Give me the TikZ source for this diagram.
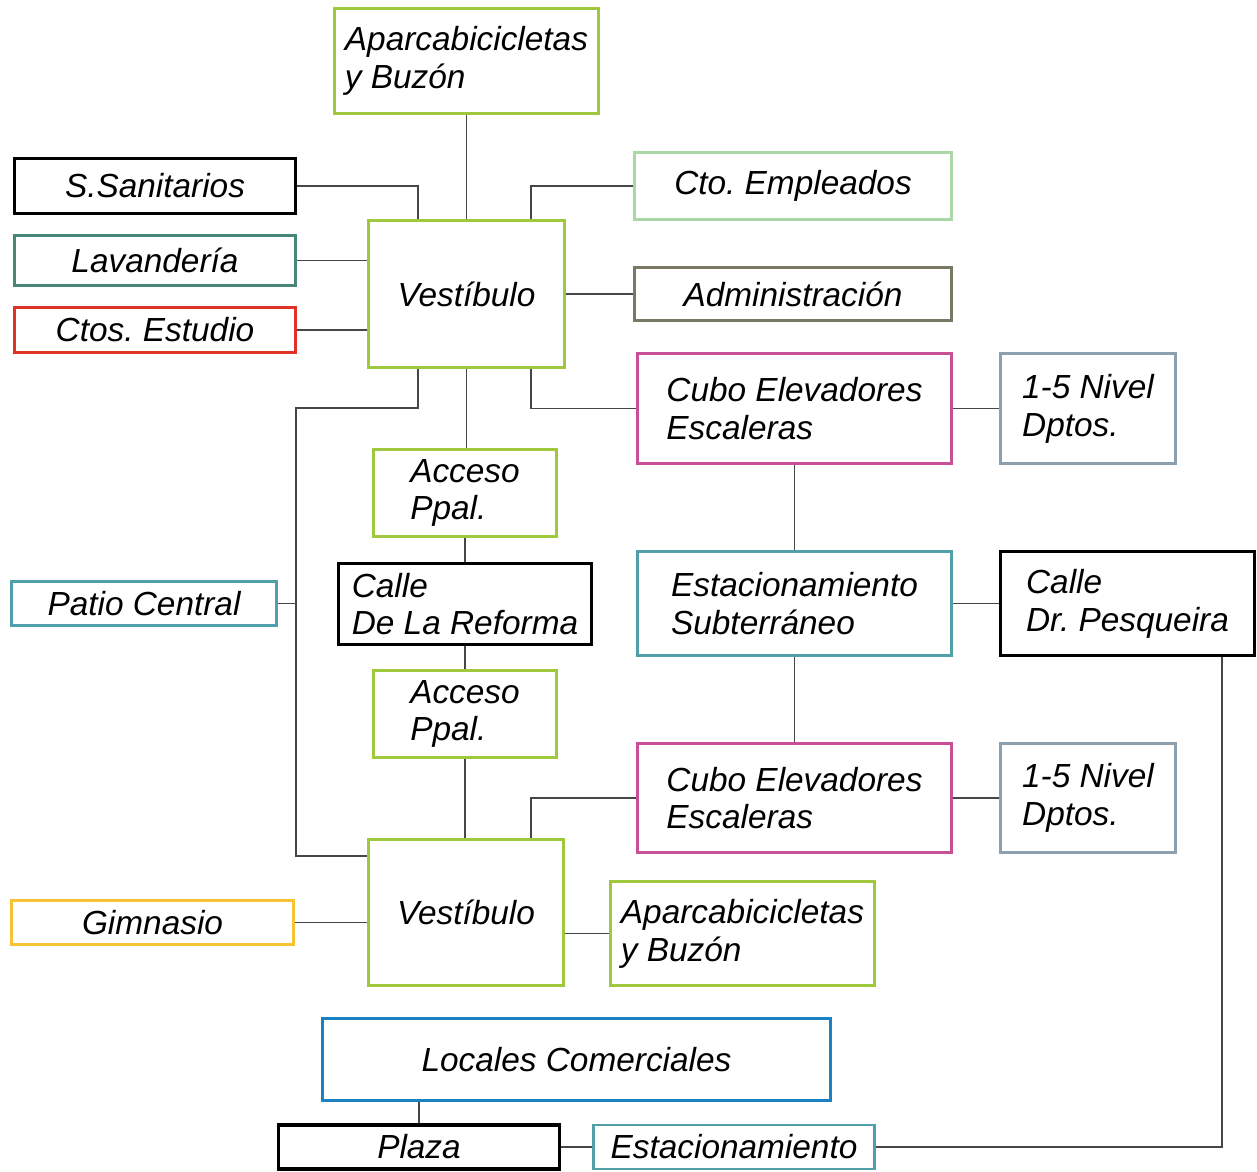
\documentclass[tikz,border=0pt]{standalone}
\usepackage{fontspec}
\setmainfont{Liberation Sans}
\usetikzlibrary{positioning,calc}
\frenchspacing

\definecolor{lime}{RGB}{160,200,60}
\definecolor{paleGreen}{RGB}{170,215,165}
\definecolor{darkTeal}{RGB}{70,135,120}
\definecolor{brickRed}{RGB}{225,50,40}
\definecolor{olive}{RGB}{120,120,100}
\definecolor{magentaBox}{RGB}{200,80,150}
\definecolor{greyBlue}{RGB}{140,160,175}
\definecolor{tealBox}{RGB}{80,160,170}
\definecolor{sunYellow}{RGB}{248,195,50}
\definecolor{seaBlue}{RGB}{25,130,195}
\definecolor{wire}{RGB}{70,70,70}

\begin{document}
\begin{tikzpicture}[
  x=0.02cm, y=-0.02cm,
  box/.style={draw, line width=1.6pt, fill=white, align=left, inner sep=0pt,
    font=\fontsize{19}{21.5}\selectfont\itshape\frenchspacing},
  sz/.style 2 args={minimum width=#1*0.02cm, minimum height=#2*0.02cm},
  link/.style={draw=wire, line width=0.8pt}
]
\useasboundingbox (0,0) rectangle (1257,1172);

\node[box, draw=lime, sz={264}{105}] (apA) at (466.5,61) {Aparcabicicletas\\y Buzón};
\node[box, draw=black, line width=1.9pt, sz={281}{55}] (san) at (155,186) {S.Sanitarios};
\node[box, draw=darkTeal, sz={281}{50}] (lav) at (155,260.5) {Lavandería};
\node[box, draw=brickRed, sz={281}{45}] (ctos) at (155,330) {Ctos. Estudio};
\node[box, draw=lime, sz={196}{147}] (vesA) at (466.5,294) {Vestíbulo};
\node[box, draw=paleGreen, sz={317}{67}] (emp) at (793,186) {Cto. Empleados};
\node[box, draw=olive, sz={317}{53}] (adm) at (793,294) {Administración};
\node[box, draw=magentaBox, sz={314}{110}] (cubA) at (794.5,408.5) {Cubo Elevadores\\Escaleras};
\node[box, draw=greyBlue, sz={175}{110}] (nivA) at (1088,408.5) {1-5 Nivel\\Dptos.};
\node[box, draw=lime, sz={183}{87}] (accA) at (465,493) {Acceso\\Ppal.};
\node[box, draw=black, line width=1.9pt, sz={253}{81}] (ref) at (465,604) {Calle\\De La Reforma};
\node[box, draw=tealBox, sz={265}{44}] (pat) at (144,603.5) {Patio Central};
\node[box, draw=tealBox, sz={314}{104}] (sub) at (794.5,603.5) {Estacionamiento\\Subterráneo};
\node[box, draw=black, line width=1.9pt, sz={254}{104}] (pes) at (1127.5,603.5) {Calle\\Dr. Pesqueira};
\node[box, draw=lime, sz={183}{87}] (accB) at (465,714) {Acceso\\Ppal.};
\node[box, draw=magentaBox, sz={314}{109}] (cubB) at (794.5,798) {Cubo Elevadores\\Escaleras};
\node[box, draw=greyBlue, sz={175}{109}] (nivB) at (1088,798) {1-5 Nivel\\Dptos.};
\node[box, draw=lime, sz={195}{146}] (vesB) at (466,912.5) {Vestíbulo};
\node[box, draw=sunYellow, sz={282}{44}] (gim) at (152.5,922.5) {Gimnasio};
\node[box, draw=lime, sz={264}{104}] (apB) at (742.5,933.5) {Aparcabicicletas\\y Buzón};
\node[box, draw=seaBlue, sz={508}{82}] (loc) at (576.5,1059.5) {Locales Comerciales};
\node[box, draw=black, line width=1.9pt, sz={281}{44}] (pla) at (419,1147) {Plaza};
\node[box, draw=tealBox, sz={281}{44}] (estB) at (734,1147) {Estacionamiento};

\coordinate (trunk) at (296,408);

\draw[link] (apA) -- (vesA);
\draw[link] (san) -| ([xshift=-0.97cm]vesA.north);
\draw[link] (emp) -| ([xshift=1.29cm]vesA.north);
\draw[link] (lav.east) -- (lav.east -| vesA.west);
\draw[link] (ctos.east) -- (ctos.east -| vesA.west);
\draw[link] (vesA) -- (adm);
\draw[link] ([xshift=-0.97cm]vesA.south) |- (trunk) |- ([yshift=1.13cm]vesB.west);
\draw[link] (pat.east) -- (pat.east -| trunk);
\draw[link] (vesA.south) -- (vesA.south |- accA.north);
\draw[link] ([xshift=1.29cm]vesA.south) |- (cubA.west);
\draw[link] (cubA) -- (nivA);
\draw[link] (cubA) -- (sub);
\draw[link] (accA) -- (ref);
\draw[link] (ref) -- (accB);
\draw[link] (accB.south) -- (accB.south |- vesB.north);
\draw[link] (sub) -- (pes);
\draw[link] (sub) -- (cubB);
\draw[link] (cubB) -- (nivB);
\draw[link] (cubB.west) -| ([xshift=1.3cm]vesB.north);
\draw[link] (gim.east) -- (gim.east -| vesB.west);
\draw[link] (apB.west) -- (apB.west -| vesB.east);
\draw[link] (pla.north) -- (pla.north |- loc.south);
\draw[link] (pla) -- (estB);
\draw[link] (estB.east) -| ([xshift=1.89cm]pes.south);

\end{tikzpicture}
\end{document}
